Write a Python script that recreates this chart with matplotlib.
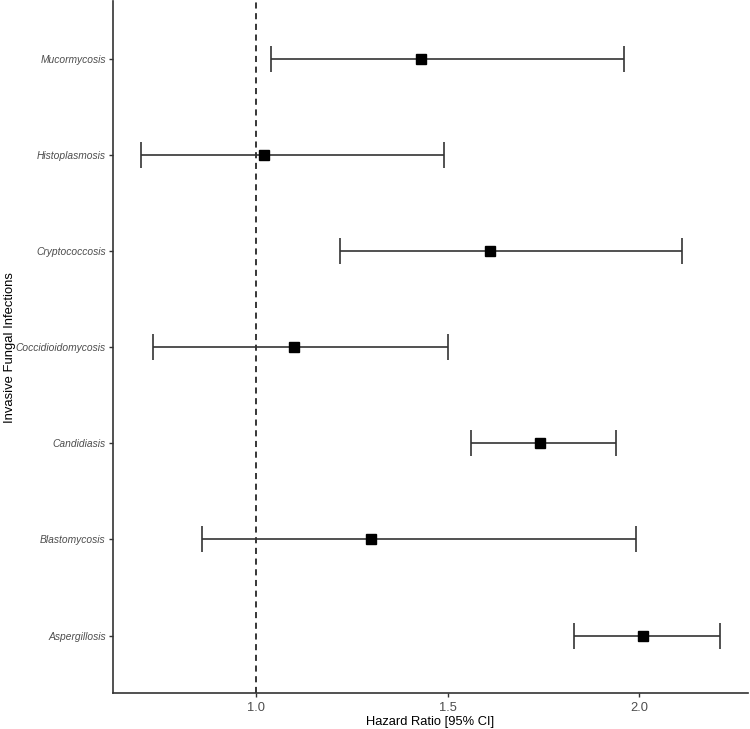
import matplotlib
matplotlib.use("Agg")
import matplotlib.pyplot as plt

plt.rcParams["font.family"] = ["Liberation Sans", "DejaVu Sans"]

# infections listed bottom to top
infections = ["Aspergillosis", "Blastomycosis", "Candidiasis", "Coccidioidomycosis",
              "Cryptococcosis", "Histoplasmosis", "Mucormycosis"]
hazard_ratio = [2.01, 1.30, 1.74, 1.10, 1.61, 1.02, 1.43]
ci_low = [1.83, 0.86, 1.56, 0.73, 1.22, 0.70, 1.04]
ci_high = [2.21, 1.99, 1.94, 1.50, 2.11, 1.49, 1.96]
x_ticks = [1.0, 1.5, 2.0]

fig = plt.figure(figsize=(7.5, 7.29), dpi=100)
ax = fig.add_axes([0.1503, 0.049, 0.8470, 0.9496])

ypos = list(range(1, len(infections) + 1))
err_low = [h - l for h, l in zip(hazard_ratio, ci_low)]
err_high = [u - h for h, u in zip(hazard_ratio, ci_high)]

ax.axvline(1.0, color="black", linestyle=(0, (4, 3)), linewidth=1.1, zorder=1)
ax.errorbar(hazard_ratio, ypos, xerr=[err_low, err_high], fmt="none",
            ecolor="#333333", elinewidth=1.2, capsize=9.5, capthick=1.2, zorder=2)
ax.plot(hazard_ratio, ypos, "s", color="black", markersize=6.5, zorder=3)

ax.set_xlim(0.626, 2.283)
ax.set_ylim(0.4, len(infections) + 0.6)
ax.set_xticks(x_ticks)
ax.set_xticklabels([f"{t:.1f}" for t in x_ticks])
ax.set_yticks(ypos)
ax.set_yticklabels(infections, style="italic")

for side in ["top", "right"]:
    ax.spines[side].set_visible(False)
for side in ["left", "bottom"]:
    ax.spines[side].set_color("#333333")
    ax.spines[side].set_linewidth(1.2)

ax.tick_params(axis="x", length=3, width=1, color="#333333", labelsize=9.3,
               labelcolor="#4D4D4D", pad=3)
ax.tick_params(axis="y", length=3, width=1, color="#333333", labelsize=7.4,
               labelcolor="#4D4D4D", pad=2)

ax.set_xlabel("Hazard Ratio [95% CI]", fontsize=9.3)
ax.set_ylabel("Invasive Fungal Infections", fontsize=9.4)
ax.xaxis.set_label_coords(0.5, -0.033)
ax.yaxis.set_label_coords(-0.152, 0.5)

fig.savefig("out.png", dpi=100)
plt.close(fig)
